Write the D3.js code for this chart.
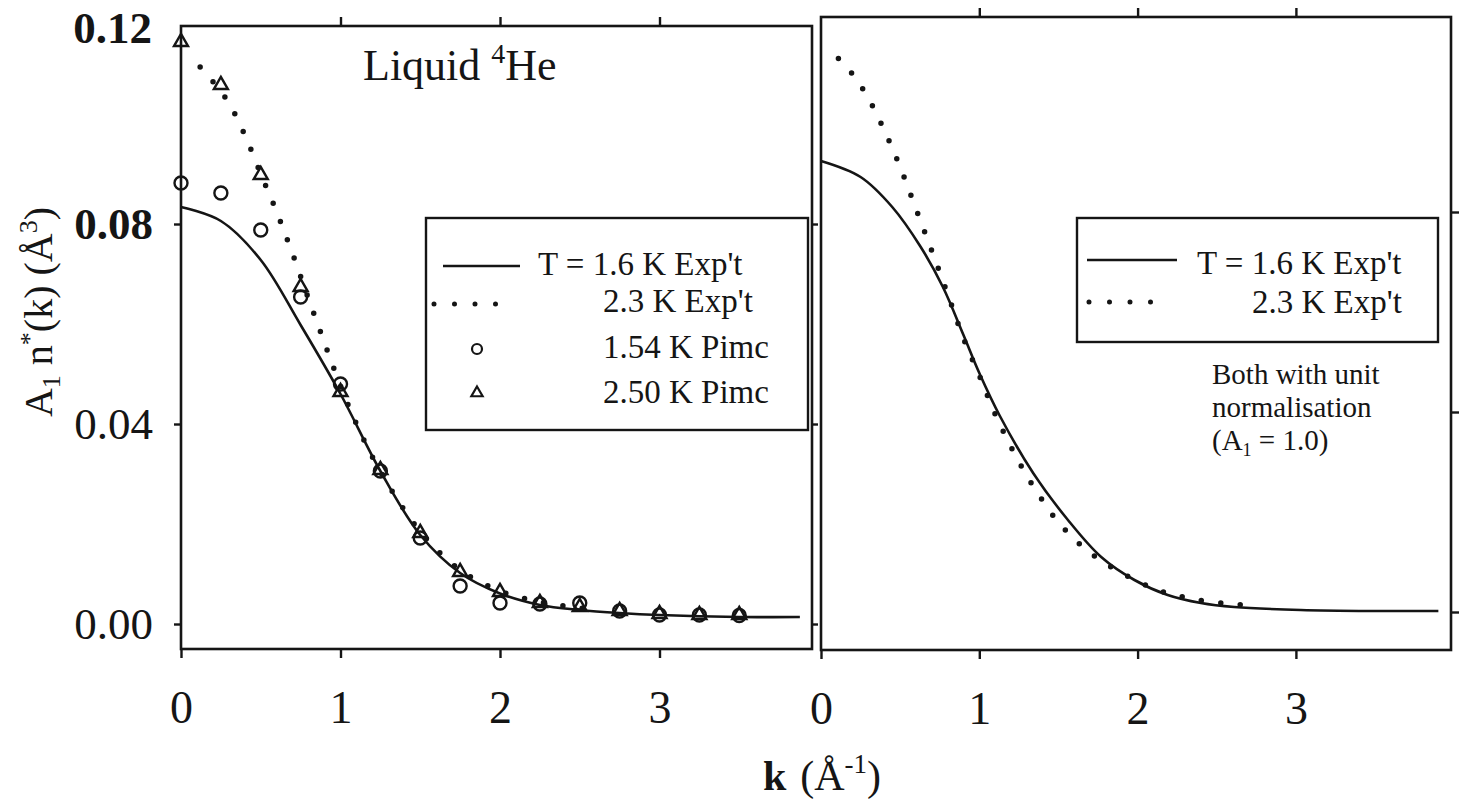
<!DOCTYPE html>
<html>
<head>
<meta charset="utf-8">
<script src="https://cdn.jsdelivr.net/npm/d3@7/dist/d3.min.js"></script>
<style>
  html, body { margin: 0; padding: 0; background: #fff; }
  svg { display: block; }
  text { font-family: "Liberation Serif", "Times New Roman", serif; fill: #151515; }
</style>
</head>
<body>
<svg id="chart" width="1464" height="802"></svg>
<script>
// Momentum distribution of liquid 4He: experiment at two temperatures and PIMC points
const kTicks = [0, 1, 2, 3];
const yTicks = [0, 0.04, 0.08, 0.12];
const yTickLabels = ["0.00", "0.04", "0.08", "0.12"];

// Left panel: absolute scale
const kExp16 = [0, 0.25, 0.5, 0.75, 1.0, 1.25, 1.5, 1.75, 2.0, 2.25, 2.5, 2.75, 3.0, 3.5, 3.88];
const nExp16 = [0.0834, 0.0806, 0.0728, 0.0598, 0.0460, 0.0306, 0.0178, 0.0102, 0.0061, 0.0038, 0.0028, 0.0022, 0.0018, 0.0014, 0.0014];

const kExp23 = [0.12, 0.2, 0.3, 0.4, 0.5, 0.6, 0.7, 0.8, 0.9, 1.0, 1.1, 1.25, 1.5, 1.75, 2.0, 2.25, 2.5, 2.6];
const nExp23 = [0.1114, 0.1085, 0.1042, 0.0978, 0.0900, 0.0824, 0.0740, 0.0650, 0.0562, 0.0476, 0.0400, 0.0305, 0.0185, 0.0108, 0.0066, 0.0044, 0.0032, 0.0029];

const kPimc = [0, 0.25, 0.5, 0.75, 1.0, 1.25, 1.5, 1.75, 2.0, 2.25, 2.5, 2.75, 3.0, 3.25, 3.5];
const nPimc154 = [0.0882, 0.0862, 0.0788, 0.0654, 0.0480, 0.0306, 0.0172, 0.0076, 0.0042, 0.0040, 0.0042, 0.0026, 0.0018, 0.0018, 0.0017];
const nPimc250 = [0.1164, 0.1078, 0.0898, 0.0674, 0.0464, 0.0308, 0.0182, 0.0104, 0.0064, 0.0042, 0.0034, 0.0026, 0.0020, 0.0018, 0.0018];

// Right panel: both curves with unit normalisation
const kNorm16 = [0, 0.25, 0.45, 0.63, 0.77, 0.9, 1.0, 1.13, 1.34, 1.56, 1.77, 1.98, 2.19, 2.4, 2.61, 3.03, 3.5, 3.9];
const nNorm16 = [0.0902, 0.0870, 0.0810, 0.0730, 0.0650, 0.0554, 0.0478, 0.0392, 0.0278, 0.0184, 0.0110, 0.0064, 0.0034, 0.0018, 0.0010, 0.0004, 0.0002, 0.0002];

const kNorm23 = [0.11, 0.2, 0.3, 0.4, 0.5, 0.6, 0.7, 0.8, 0.9, 1.0, 1.1, 1.22, 1.35, 1.52, 1.75, 2.11, 2.35, 2.59, 2.7];
const nNorm23 = [0.1107, 0.1075, 0.1027, 0.0963, 0.0890, 0.0806, 0.0722, 0.0636, 0.0547, 0.0473, 0.0396, 0.0318, 0.0247, 0.0172, 0.0107, 0.0046, 0.0026, 0.0016, 0.0013];

const legendLeft = ["T = 1.6 K Exp't", "2.3 K Exp't", "1.54 K Pimc", "2.50 K Pimc"];
const legendRight = ["T = 1.6 K Exp't", "2.3 K Exp't"];
const noteLines = ["Both with unit", "normalisation"];

const ink = "#151515";
const svg = d3.select("#chart");

function zip(ks, ns) { return ks.map((k, i) => ({ k, n: ns[i] })); }

// ---------- panel geometry ----------
const L = { x0: 181, x1: 812, top: 26, bottom: 649 };
const R = { x0: 821, x1: 1451, top: 17, bottom: 650 };

const xL = d3.scaleLinear().domain([0, (L.x1 - L.x0) / 159.5]).range([L.x0, L.x1]);
const yL = d3.scaleLinear().domain([0, 0.12]).range([624, 24]);
const xR = d3.scaleLinear().domain([0, (R.x1 - R.x0) / 158.3]).range([R.x0, R.x1]);
const yR = d3.scaleLinear().domain([0, 0.12]).range([612, 12]);

function frame(p) {
  svg.append("rect")
    .attr("x", p.x0).attr("y", p.top)
    .attr("width", p.x1 - p.x0).attr("height", p.bottom - p.top)
    .attr("fill", "none").attr("stroke", ink).attr("stroke-width", 2.6);
}
frame(L);
frame(R);

function styleAxis(g) {
  g.select(".domain").remove();
  g.selectAll(".tick line").attr("stroke", ink).attr("stroke-width", 2.4);
  g.selectAll(".tick text").attr("fill", ink);
}

// bottom axes with labels, plus plain ticks along the top edge
function bottomAxis(x, p) {
  const g = svg.append("g").attr("transform", `translate(0,${p.bottom})`)
    .call(d3.axisBottom(x).tickValues(kTicks).tickFormat(d3.format("d")).tickSize(9).tickPadding(32));
  styleAxis(g);
  g.selectAll(".tick text").style("font-size", "46px").style("font-family", "Liberation Serif, serif");
  const t = svg.append("g").attr("transform", `translate(0,${p.top})`)
    .call(d3.axisTop(x).tickValues(kTicks.filter(d => d > 0)).tickFormat("").tickSize(9));
  styleAxis(t);
}
bottomAxis(xL, L);
bottomAxis(xR, R);

// left y axis with labels
const gy = svg.append("g").attr("transform", `translate(${L.x0},0)`)
  .call(d3.axisLeft(yL).tickValues(yTicks).tickFormat((d, i) => yTickLabels[i]).tickSize(7).tickPadding(21));
styleAxis(gy);
gy.selectAll(".tick text")
  .style("font-size", "45px").style("font-family", "Liberation Serif, serif")
  .style("font-weight", d => d >= 0.08 ? "bold" : "normal");
gy.selectAll(".tick").filter(d => d === 0.12).remove();
svg.append("text").attr("x", L.x0 - 29).attr("y", yL(0.12) + 9)
  .attr("text-anchor", "end").attr("dominant-baseline", "middle")
  .style("font-size", "45px").style("font-weight", "bold").text(yTickLabels[3]);

// outward ticks on the right edge of each panel
const gyL2 = svg.append("g").attr("transform", `translate(${L.x1},0)`)
  .call(d3.axisRight(yL).tickValues([0, 0.04, 0.08]).tickFormat("").tickSize(6));
styleAxis(gyL2);
const gyR = svg.append("g").attr("transform", `translate(${R.x1},0)`)
  .call(d3.axisRight(yR).tickValues([0, 0.04, 0.08]).tickFormat("").tickSize(8));
styleAxis(gyR);

// ---------- marks ----------
const smooth = d3.curveCatmullRom.alpha(0.5);
function solid(x, y, data) {
  svg.append("path").datum(data)
    .attr("d", d3.line().x(d => x(d.k)).y(d => y(d.n)).curve(smooth))
    .attr("fill", "none").attr("stroke", ink).attr("stroke-width", 2.6);
}
function dotted(x, y, data) {
  svg.append("path").datum(data)
    .attr("d", d3.line().x(d => x(d.k)).y(d => y(d.n)).curve(smooth))
    .attr("fill", "none").attr("stroke", ink).attr("stroke-width", 5.5)
    .attr("stroke-linecap", "round").attr("stroke-dasharray", "0 19.5");
}

// PIMC points
svg.append("g").selectAll("circle").data(zip(kPimc, nPimc154)).join("circle")
  .attr("cx", d => xL(d.k)).attr("cy", d => yL(d.n)).attr("r", 6.5)
  .attr("fill", "none").attr("stroke", ink).attr("stroke-width", 2.4);
const tri = d3.symbol().type(d3.symbolTriangle).size(85);
svg.append("g").selectAll("path").data(zip(kPimc, nPimc250)).join("path")
  .attr("d", tri).attr("transform", d => `translate(${xL(d.k)},${yL(d.n)})`)
  .attr("fill", "none").attr("stroke", ink).attr("stroke-width", 2.4);

solid(xL, yL, zip(kExp16, nExp16));
dotted(xL, yL, zip(kExp23, nExp23));
solid(xR, yR, zip(kNorm16, nNorm16));
dotted(xR, yR, zip(kNorm23, nNorm23));

// ---------- title ----------
const title = svg.append("text").attr("x", 363).attr("y", 80).style("font-size", "44px");
title.append("tspan").text("Liquid ");
title.append("tspan").attr("dy", -17).style("font-size", "28px").text("4");
title.append("tspan").attr("dy", 17).text("He");

// ---------- legends ----------
svg.append("rect").attr("x", 426).attr("y", 218).attr("width", 382).attr("height", 212)
  .attr("fill", "#fff").attr("stroke", ink).attr("stroke-width", 2.4);
svg.append("line").attr("x1", 443).attr("x2", 520).attr("y1", 266).attr("y2", 266)
  .attr("stroke", ink).attr("stroke-width", 2.6);
svg.append("line").attr("x1", 434).attr("x2", 516).attr("y1", 304).attr("y2", 304)
  .attr("stroke", ink).attr("stroke-width", 5).attr("stroke-linecap", "round").attr("stroke-dasharray", "0 20.5");
svg.append("circle").attr("cx", 477).attr("cy", 349).attr("r", 5)
  .attr("fill", "none").attr("stroke", ink).attr("stroke-width", 2.2);
svg.append("path").attr("d", d3.symbol().type(d3.symbolTriangle).size(55))
  .attr("transform", "translate(477,393)")
  .attr("fill", "none").attr("stroke", ink).attr("stroke-width", 2.2);
const legLX = [538, 603, 603, 603];
const legLY = [275, 312, 358, 403];
svg.append("g").selectAll("text").data(legendLeft).join("text")
  .attr("x", (d, i) => legLX[i]).attr("y", (d, i) => legLY[i])
  .style("font-size", "33px").text(d => d);

svg.append("rect").attr("x", 1077).attr("y", 218).attr("width", 361).attr("height", 124)
  .attr("fill", "#fff").attr("stroke", ink).attr("stroke-width", 2.4);
svg.append("line").attr("x1", 1087).attr("x2", 1177).attr("y1", 260).attr("y2", 260)
  .attr("stroke", ink).attr("stroke-width", 2.6);
svg.append("line").attr("x1", 1089).attr("x2", 1171).attr("y1", 302).attr("y2", 302)
  .attr("stroke", ink).attr("stroke-width", 5).attr("stroke-linecap", "round").attr("stroke-dasharray", "0 20.5");
const legRX = [1197, 1252];
const legRY = [274, 313];
svg.append("g").selectAll("text").data(legendRight).join("text")
  .attr("x", (d, i) => legRX[i]).attr("y", (d, i) => legRY[i])
  .style("font-size", "33px").text(d => d);

// note under the right legend
svg.append("g").selectAll("text").data(noteLines).join("text")
  .attr("x", 1212).attr("y", (d, i) => 384 + i * 33)
  .style("font-size", "29px").text(d => d);
const note3 = svg.append("text").attr("x", 1212).attr("y", 450).style("font-size", "29px");
note3.append("tspan").text("(A");
note3.append("tspan").attr("dy", 6).style("font-size", "18px").text("1");
note3.append("tspan").attr("dy", -6).text(" = 1.0)");

// ---------- axis titles ----------
const xt = svg.append("text").attr("x", 822).attr("y", 790).attr("text-anchor", "middle").style("font-size", "42px");
xt.append("tspan").style("font-weight", "bold").text("k");
xt.append("tspan").attr("dx", 14).text("(Å");
xt.append("tspan").attr("dy", -17).style("font-size", "27px").text("-1");
xt.append("tspan").attr("dy", 17).text(")");

const yt = svg.append("text").attr("transform", "translate(52,312) rotate(-90)")
  .attr("text-anchor", "middle").style("font-size", "40px");
yt.append("tspan").text("A");
yt.append("tspan").attr("dy", 8).style("font-size", "26px").text("1");
yt.append("tspan").attr("dy", -8).text(" n");
yt.append("tspan").attr("dy", -14).style("font-size", "26px").text("*");
yt.append("tspan").attr("dy", 14).text("(k)  (Å");
yt.append("tspan").attr("dy", -15).style("font-size", "26px").text("3");
yt.append("tspan").attr("dy", 15).text(")");
</script>
</body>
</html>
